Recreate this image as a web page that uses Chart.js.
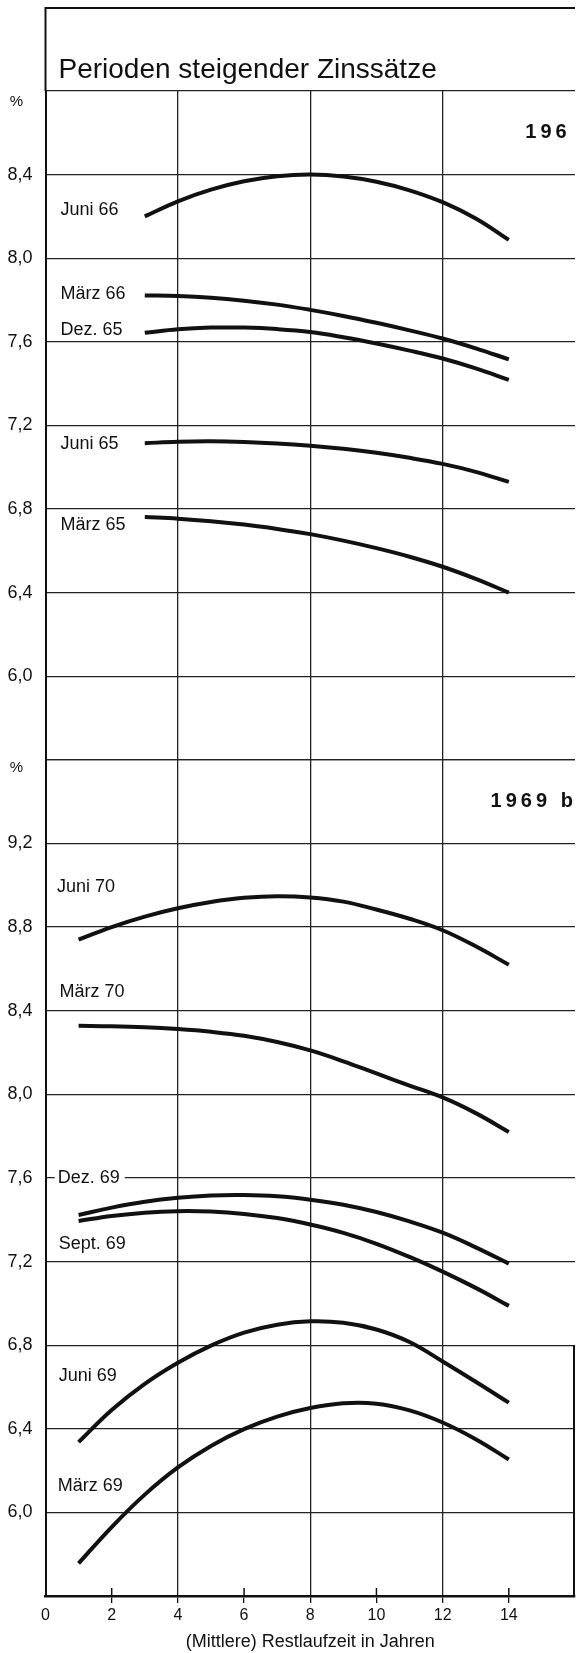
<!DOCTYPE html>
<html>
<head>
<meta charset="utf-8">
<script src="https://cdn.jsdelivr.net/npm/chart.js@4.4.1/dist/chart.umd.min.js"></script>
<style>
  html, body { margin: 0; padding: 0; background: #fff; }
  canvas { display: block; }
</style>
</head>
<body>
<canvas id="zins-chart" width="578" height="1653"></canvas>
<script>
// Restlaufzeit in Jahren
var laufzeitOben = [3, 4, 5, 6, 7, 8, 9, 10, 11, 12, 13, 14];
var laufzeitUnten = [1, 2, 3, 4, 5, 6, 7, 8, 9, 10, 11, 12, 13, 14];

// 1965 bis 1966 (oberes Feld)
var juni66 = [8.200, 8.272, 8.328, 8.368, 8.392, 8.400, 8.391, 8.366, 8.325, 8.268, 8.190, 8.088];
var maerz66 = [7.822, 7.819, 7.811, 7.797, 7.778, 7.753, 7.724, 7.691, 7.655, 7.616, 7.569, 7.516];
var dez65 = [7.643, 7.660, 7.668, 7.668, 7.661, 7.647, 7.622, 7.592, 7.558, 7.520, 7.473, 7.418];
var juni65 = [7.115, 7.122, 7.124, 7.121, 7.114, 7.103, 7.088, 7.069, 7.045, 7.016, 6.978, 6.930];
var maerz65 = [6.762, 6.754, 6.742, 6.726, 6.705, 6.680, 6.649, 6.613, 6.572, 6.524, 6.466, 6.400];

// 1969 bis 1970 (unteres Feld)
var juni70 = [8.740, 8.800, 8.850, 8.890, 8.920, 8.940, 8.948, 8.942, 8.922, 8.884, 8.840, 8.785, 8.708, 8.620];
var maerz70 = [8.328, 8.326, 8.321, 8.312, 8.299, 8.280, 8.250, 8.210, 8.158, 8.100, 8.042, 7.985, 7.910, 7.820];
var dez69 = [7.423, 7.458, 7.486, 7.505, 7.516, 7.518, 7.512, 7.496, 7.472, 7.437, 7.392, 7.338, 7.268, 7.190];
var sept69 = [7.394, 7.418, 7.434, 7.441, 7.439, 7.428, 7.408, 7.377, 7.337, 7.285, 7.222, 7.152, 7.074, 6.988];
var juni69 = [6.336, 6.490, 6.615, 6.716, 6.798, 6.860, 6.898, 6.914, 6.907, 6.875, 6.815, 6.722, 6.625, 6.525];
var maerz69 = [5.756, 5.930, 6.085, 6.215, 6.318, 6.398, 6.458, 6.499, 6.522, 6.520, 6.488, 6.430, 6.350, 6.253];

var titel = 'Perioden steigender Zinssätze';
var xTitel = '(Mittlere) Restlaufzeit in Jahren';
var xTicks = [0, 2, 4, 6, 8, 10, 12, 14];
var yTicksOben = [6.0, 6.4, 6.8, 7.2, 7.6, 8.0, 8.4];
var yTicksUnten = [6.0, 6.4, 6.8, 7.2, 7.6, 8.0, 8.4, 8.8, 9.2];

var FONT = '"Liberation Sans", Arial, sans-serif';
var INK = '#111';

// Kurvenbeschriftungen (in Achsenwerten)
var kurvenLabels = [
  { text: 'Juni 66', x: 0.45, y: 8.23, achse: 'yTop' },
  { text: 'März 66', x: 0.45, y: 7.83, achse: 'yTop' },
  { text: 'Dez. 65', x: 0.45, y: 7.655, achse: 'yTop' },
  { text: 'Juni 65', x: 0.45, y: 7.11, achse: 'yTop' },
  { text: 'März 65', x: 0.45, y: 6.725, achse: 'yTop' },
  { text: 'Juni 70', x: 0.35, y: 8.99, achse: 'yBot' },
  { text: 'März 70', x: 0.42, y: 8.49, achse: 'yBot' },
  { text: 'Dez. 69', x: 0.37, y: 7.60, achse: 'yBot', frei: true },
  { text: 'Sept. 69', x: 0.4, y: 7.285, achse: 'yBot' },
  { text: 'Juni 69', x: 0.4, y: 6.65, achse: 'yBot' },
  { text: 'März 69', x: 0.37, y: 6.125, achse: 'yBot' }
];

function punkte(xs, ys) {
  return ys.map(function (v, i) { return { x: xs[i], y: v }; });
}

function kurve(name, xs, ys, achse) {
  return {
    label: name,
    data: punkte(xs, ys),
    yAxisID: achse,
    borderColor: INK,
    borderWidth: 4,
    pointRadius: 0,
    tension: 0.4,
    fill: false
  };
}

function komma(v) {
  return v.toFixed(1).replace('.', ',');
}

var beschriftung = {
  id: 'beschriftung',
  beforeDraw: function (chart) {
    var c = chart.ctx;
    c.save();
    c.fillStyle = '#fff';
    c.fillRect(0, 0, chart.width, chart.height);
    c.restore();
  },
  afterDraw: function (chart) {
    var c = chart.ctx;
    var a = chart.chartArea;
    var sx = chart.scales.x;
    var yt = chart.scales.yTop;
    var yb = chart.scales.yBot;
    c.save();

    // Titelkasten
    c.strokeStyle = INK;
    c.lineWidth = 2;
    c.beginPath();
    c.moveTo(a.left, a.top);
    c.lineTo(a.left, 8);
    c.lineTo(a.right, 8);
    c.stroke();
    c.fillStyle = INK;
    c.font = '28px ' + FONT;
    c.textBaseline = 'alphabetic';
    c.textAlign = 'left';
    c.fillText(titel, a.left + 13, 78);

    // kurze Teilstriche oberhalb der x-Achse
    c.lineWidth = 1.5;
    c.beginPath();
    [2, 6, 10, 14].forEach(function (t) {
      var px = sx.getPixelForValue(t);
      c.moveTo(px, a.bottom);
      c.lineTo(px, a.bottom - 8);
    });
    c.stroke();

    // rechter Rahmen unten
    c.lineWidth = 2;
    c.beginPath();
    c.moveTo(a.right - 1, yb.getPixelForValue(6.8));
    c.lineTo(a.right - 1, a.bottom);
    c.stroke();

    // Kurvennamen
    c.font = '18px ' + FONT;
    c.textBaseline = 'middle';
    kurvenLabels.forEach(function (l) {
      var px = sx.getPixelForValue(l.x);
      var py = chart.scales[l.achse].getPixelForValue(l.y);
      if (l.frei) {
        var w = c.measureText(l.text).width;
        c.fillStyle = '#fff';
        c.fillRect(px - 3, py - 3, w + 8, 6);
      }
      c.fillStyle = INK;
      c.fillText(l.text, px, py);
    });

    // Prozentzeichen
    c.font = '15px ' + FONT;
    c.textAlign = 'center';
    c.fillText('%', a.left - 29, yt.getPixelForValue(8.75));
    c.fillText('%', a.left - 29, yb.getPixelForValue(9.56));

    // Jahreszahlen
    c.font = 'bold 20px ' + FONT;
    c.textAlign = 'left';
    c.letterSpacing = '4px';
    c.fillText('196', sx.getPixelForValue(14.5), yt.getPixelForValue(8.6));
    c.fillText('1969 b', sx.getPixelForValue(13.45), yb.getPixelForValue(9.4));
    c.restore();
  }
};

function yAchse(weight, min, max, labels) {
  return {
    type: 'linear',
    position: 'left',
    stack: 'zins',
    stackWeight: weight,
    min: min,
    max: max,
    afterFit: function (s) { s.width = 45.5; },
    border: { display: true, color: INK, width: 2 },
    grid: { color: '#222', lineWidth: 1.3, drawTicks: false },
    ticks: {
      stepSize: 0.4,
      maxTicksLimit: 20,
      autoSkip: false,
      padding: 13,
      color: INK,
      font: { family: FONT, size: 18 },
      callback: function (v) {
        var hit = labels.some(function (t) { return Math.abs(t - v) < 0.001; });
        return hit ? komma(v) : '';
      }
    }
  };
}

var ctx = document.getElementById('zins-chart');

var zinsChart = new Chart(ctx, {
  type: 'line',
  data: {
    datasets: [
      kurve('Juni 66', laufzeitOben, juni66, 'yTop'),
      kurve('März 66', laufzeitOben, maerz66, 'yTop'),
      kurve('Dez. 65', laufzeitOben, dez65, 'yTop'),
      kurve('Juni 65', laufzeitOben, juni65, 'yTop'),
      kurve('März 65', laufzeitOben, maerz65, 'yTop'),
      kurve('Juni 70', laufzeitUnten, juni70, 'yBot'),
      kurve('März 70', laufzeitUnten, maerz70, 'yBot'),
      kurve('Dez. 69', laufzeitUnten, dez69, 'yBot'),
      kurve('Sept. 69', laufzeitUnten, sept69, 'yBot'),
      kurve('Juni 69', laufzeitUnten, juni69, 'yBot'),
      kurve('März 69', laufzeitUnten, maerz69, 'yBot')
    ]
  },
  options: {
    responsive: false,
    animation: false,
    layout: { padding: { top: 91, left: 0, right: 0, bottom: 0 } },
    plugins: {
      legend: { display: false },
      tooltip: { enabled: false }
    },
    scales: {
      x: {
        type: 'linear',
        position: 'bottom',
        min: 0,
        max: 16,
        afterFit: function (s) { s.height = 57; },
        border: { display: true, color: INK, width: 2.5 },
        grid: {
          lineWidth: 1.3,
          tickLength: 7,
          color: function (c) {
            var v = c.tick && c.tick.value;
            return (v > 0 && v < 16 && v % 4 === 0) ? '#222' : 'rgba(0,0,0,0)';
          },
          tickColor: function (c) {
            var v = c.tick && c.tick.value;
            return (v > 0 && v < 16) ? INK : 'rgba(0,0,0,0)';
          }
        },
        ticks: {
          stepSize: 2,
          autoSkip: false,
          padding: 3,
          color: INK,
          font: { family: FONT, size: 16 },
          callback: function (v) { return xTicks.indexOf(v) >= 0 ? String(v) : ''; }
        },
        title: {
          display: true,
          text: xTitel,
          color: INK,
          font: { family: FONT, size: 18 },
          padding: { top: 0, bottom: 0 }
        }
      },
      // linke Achsen werden von unten nach oben gestapelt
      yBot: yAchse(4, 5.6, 9.6, yTicksUnten),
      yTop: yAchse(3.2, 5.6, 8.8, yTicksOben)
    }
  },
  plugins: [beschriftung]
});
</script>
</body>
</html>
